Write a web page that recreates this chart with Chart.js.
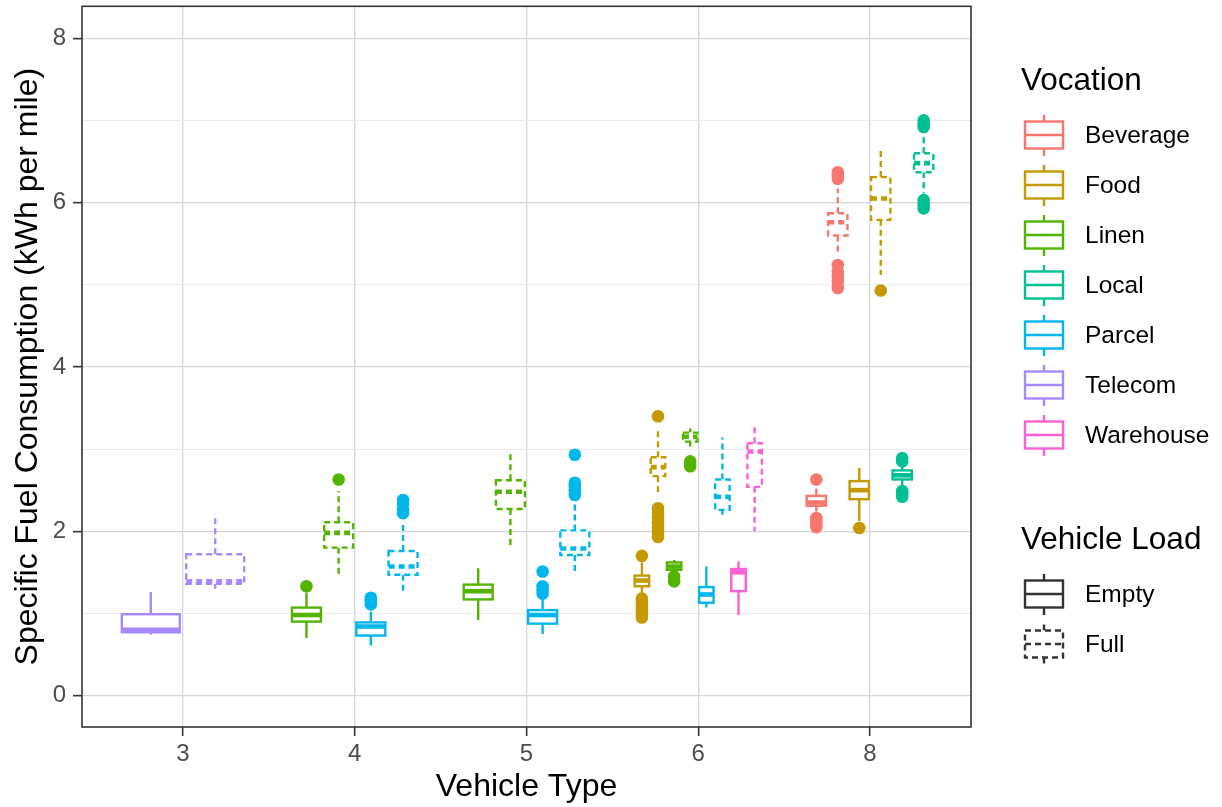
<!DOCTYPE html>
<html>
<head>
<meta charset="utf-8">
<script src="https://cdn.jsdelivr.net/npm/chart.js@4.4.1/dist/chart.umd.min.js"></script>
<style>
  html, body { margin: 0; padding: 0; background: #fff; }
  canvas { display: block; }
</style>
</head>
<body>
<canvas id="fuelChart" width="1222" height="807"></canvas>
<script>
// categories and legend entries
const vehicleTypes = ['3', '4', '5', '6', '8'];
const vocations = ['Beverage', 'Food', 'Linen', 'Local', 'Parcel', 'Telecom', 'Warehouse'];
const vocationColors = ['#F8766D', '#C49A00', '#53B400', '#00C094', '#00B6EB', '#A58AFF', '#FB61D7'];
const loads = ['Empty', 'Full'];
const yTickValues = [0, 1, 2, 3, 4, 5, 6, 7, 8];
const yTickLabels = ['0', '', '2', '', '4', '', '6', '', '8'];

// one entry per box (vehicle type index, vocation, load)
const boxType     = [0, 0, 1, 1, 1, 1, 2, 2, 2, 2, 3, 3, 3, 3, 3, 3, 3, 3, 4, 4, 4, 4, 4, 4];
const boxVocation = ['Telecom', 'Telecom', 'Linen', 'Linen', 'Parcel', 'Parcel',
                     'Linen', 'Linen', 'Parcel', 'Parcel',
                     'Food', 'Food', 'Linen', 'Linen', 'Parcel', 'Parcel', 'Warehouse', 'Warehouse',
                     'Beverage', 'Beverage', 'Food', 'Food', 'Local', 'Local'];
const boxLoad     = ['Empty', 'Full', 'Empty', 'Full', 'Empty', 'Full',
                     'Empty', 'Full', 'Empty', 'Full',
                     'Empty', 'Full', 'Empty', 'Full', 'Empty', 'Full', 'Empty', 'Full',
                     'Empty', 'Full', 'Empty', 'Full', 'Empty', 'Full'];
const whiskerLow    = [0.74, 1.30, 0.70, 1.45, 0.61, 1.26, 0.92, 1.80, 0.75, 1.50, 1.21, 2.44, 1.50, 3.03, 1.07, 2.20, 0.98, 2.00, 2.24, 5.38, 2.12, 5.12, 2.55, 6.11];
const lowerQuartile = [0.77, 1.36, 0.90, 1.80, 0.73, 1.47, 1.17, 2.27, 0.875, 1.71, 1.33, 2.67, 1.53, 3.09, 1.13, 2.26, 1.27, 2.54, 2.31, 5.60, 2.39, 5.79, 2.63, 6.37];
const medianValue   = [0.80, 1.39, 0.98, 1.98, 0.84, 1.57, 1.27, 2.48, 0.98, 1.79, 1.40, 2.78, 1.57, 3.15, 1.23, 2.42, 1.50, 2.97, 2.35, 5.76, 2.50, 6.05, 2.68, 6.48];
const upperQuartile = [0.99, 1.72, 1.07, 2.11, 0.89, 1.76, 1.35, 2.62, 1.04, 2.01, 1.46, 2.90, 1.62, 3.20, 1.32, 2.63, 1.54, 3.07, 2.43, 5.87, 2.61, 6.31, 2.74, 6.60];
const whiskerHigh   = [1.26, 2.21, 1.25, 2.49, 1.02, 2.08, 1.55, 2.98, 1.17, 2.36, 1.62, 3.23, 1.65, 3.25, 1.57, 3.14, 1.63, 3.27, 2.52, 6.17, 2.77, 6.67, 2.81, 6.81];
const outlierValues = [
  [], [],
  [1.33], [2.63], [1.11, 1.14, 1.17, 1.19], [2.22, 2.26, 2.33, 2.38],
  [], [], [1.24, 1.28, 1.33, 1.51], [2.44, 2.50, 2.55, 2.59, 2.93],
  [1.70, 1.18, 1.14, 1.10, 1.06, 1.02, 0.98, 0.95],
  [3.40, 2.28, 2.22, 2.16, 2.10, 2.04, 1.98, 1.93],
  [1.45, 1.39], [2.85, 2.79], [], [], [], [],
  [2.63, 2.16, 2.12, 2.08, 2.05],
  [6.29, 6.33, 6.37, 5.24, 5.16, 5.10, 5.04, 4.96],
  [2.04], [4.93],
  [2.85, 2.89, 2.49, 2.45, 2.42],
  [6.92, 6.96, 7.00, 6.03, 5.98, 5.93]
];

const FONT = "'Liberation Sans', Arial, Helvetica, sans-serif";
const dodgeWidth = 0.75;

// dodge position of each box inside its vehicle type
function boxPosition(i) {
  const same = boxType.map((t, k) => k).filter(k => boxType[k] === boxType[i]);
  const n = same.length;
  const j = same.indexOf(i);
  const slot = dodgeWidth / n;
  return { center: boxType[i] + (j - (n - 1) / 2) * slot, half: slot * 0.9 / 2 };
}

function colorOf(voc) {
  return vocationColors[vocations.indexOf(voc)];
}

const outlierSets = vocations.map((voc, v) => {
  const pts = [];
  boxVocation.forEach((bv, i) => {
    if (bv !== voc) return;
    const pos = boxPosition(i);
    outlierValues[i].forEach(val => pts.push({ x: pos.center, y: val }));
  });
  return {
    label: voc,
    data: pts,
    backgroundColor: vocationColors[v],
    borderWidth: 0,
    pointRadius: 6.3,
    pointHoverRadius: 6.3
  };
});

function drawBoxShape(ctx, xl, xr, xc, yLo, yQ1, yMed, yQ3, yHi, color, dashed, lw, medW) {
  ctx.save();
  ctx.strokeStyle = color;
  ctx.lineWidth = lw;
  ctx.setLineDash(dashed ? [6, 4] : []);
  ctx.beginPath();
  ctx.moveTo(xc, yQ3); ctx.lineTo(xc, yHi);
  ctx.moveTo(xc, yQ1); ctx.lineTo(xc, yLo);
  ctx.stroke();
  ctx.fillStyle = '#fff';
  ctx.fillRect(xl, yQ3, xr - xl, yQ1 - yQ3);
  ctx.strokeRect(xl, yQ3, xr - xl, yQ1 - yQ3);
  ctx.lineWidth = medW;
  ctx.beginPath();
  ctx.moveTo(xl, yMed); ctx.lineTo(xr, yMed);
  ctx.stroke();
  ctx.restore();
}

const boxPlugin = {
  id: 'boxes',
  beforeDatasetsDraw(chart) {
    const { ctx, scales: { x, y } } = chart;
    boxType.forEach((t, i) => {
      const pos = boxPosition(i);
      drawBoxShape(ctx,
        x.getPixelForValue(pos.center - pos.half),
        x.getPixelForValue(pos.center + pos.half),
        x.getPixelForValue(pos.center),
        y.getPixelForValue(whiskerLow[i]),
        y.getPixelForValue(lowerQuartile[i]),
        y.getPixelForValue(medianValue[i]),
        y.getPixelForValue(upperQuartile[i]),
        y.getPixelForValue(whiskerHigh[i]),
        colorOf(boxVocation[i]), boxLoad[i] === 'Full', 2.4, 4.6);
    });
  },
  afterDraw(chart) {
    const { ctx, chartArea: a } = chart;
    ctx.save();
    ctx.strokeStyle = '#333333';
    ctx.lineWidth = 1.6;
    ctx.strokeRect(a.left, a.top, a.right - a.left, a.bottom - a.top);

    // legend
    const keyL = 1025, keyR = 1063, keyC = 1044, textX = 1085;
    ctx.fillStyle = '#000';
    ctx.textBaseline = 'middle';
    ctx.textAlign = 'left';
    ctx.font = '31.5px ' + FONT;
    ctx.fillText('Vocation', 1021, 81);
    ctx.font = '24.5px ' + FONT;
    vocations.forEach((voc, v) => {
      const cy = 135 + v * 50;
      drawBoxShape(ctx, keyL, keyR, keyC, cy + 21, cy + 13.5, cy, cy - 13.5, cy - 20, vocationColors[v], false, 2.4, 2.4);
      ctx.fillStyle = '#000';
      ctx.fillText(voc, textX, cy + 1);
    });
    ctx.font = '31.5px ' + FONT;
    ctx.fillText('Vehicle Load', 1021, 540);
    ctx.font = '24.5px ' + FONT;
    loads.forEach((ld, k) => {
      const cy = 594 + k * 50;
      drawBoxShape(ctx, keyL, keyR, keyC, cy + 21, cy + 13.5, cy, cy - 13.5, cy - 20, '#333333', ld === 'Full', 2.4, 2.4);
      ctx.fillStyle = '#000';
      ctx.fillText(ld, textX, cy + 1);
    });
    ctx.restore();
  }
};

new Chart(document.getElementById('fuelChart'), {
  type: 'scatter',
  data: { datasets: outlierSets },
  plugins: [boxPlugin],
  options: {
    responsive: false,
    animation: false,
    events: [],
    layout: { padding: { left: 0, top: 6, right: 251, bottom: 0 } },
    plugins: { legend: { display: false }, tooltip: { enabled: false } },
    scales: {
      x: {
        type: 'linear',
        min: -0.588,
        max: 4.588,
        afterBuildTicks: s => { s.ticks = vehicleTypes.map((c, i) => ({ value: i })); },
        afterFit: s => { s.height = 80; s.paddingLeft = 0; s.paddingRight = 0; },
        ticks: {
          callback: v => vehicleTypes[v],
          font: { family: FONT, size: 24 },
          color: '#4D4D4D',
          padding: 4,
          maxRotation: 0
        },
        grid: { color: '#D6D6D6', lineWidth: 1.3, tickLength: 9, tickColor: '#333333', tickWidth: 1.6 },
        border: { display: false },
        title: {
          display: true,
          text: 'Vehicle Type',
          font: { family: FONT, size: 32 },
          color: '#000',
          padding: { top: 0, bottom: 1 }
        }
      },
      y: {
        min: -0.383,
        max: 8.389,
        afterBuildTicks: s => { s.ticks = yTickValues.map(v => ({ value: v })); },
        afterFit: s => { s.width = 82; s.paddingTop = 0; s.paddingBottom = 0; },
        ticks: {
          callback: (v, i) => yTickLabels[yTickValues.indexOf(v)],
          font: { family: FONT, size: 24 },
          color: '#4D4D4D',
          padding: 7
        },
        grid: {
          color: ctx => (ctx.tick && ctx.tick.value % 2 === 1) ? '#EBEBEB' : '#D6D6D6',
          lineWidth: ctx => (ctx.tick && ctx.tick.value % 2 === 1) ? 1 : 1.3,
          tickLength: 9,
          tickColor: ctx => (ctx.tick && ctx.tick.value % 2 === 1) ? 'rgba(0,0,0,0)' : '#333333',
          tickWidth: 1.6
        },
        border: { display: false },
        title: {
          display: true,
          text: 'Specific Fuel Consumption (kWh per mile)',
          font: { family: FONT, size: 32 },
          color: '#000',
          padding: { top: 9, bottom: 0 }
        }
      }
    }
  }
});
</script>
</body>
</html>
